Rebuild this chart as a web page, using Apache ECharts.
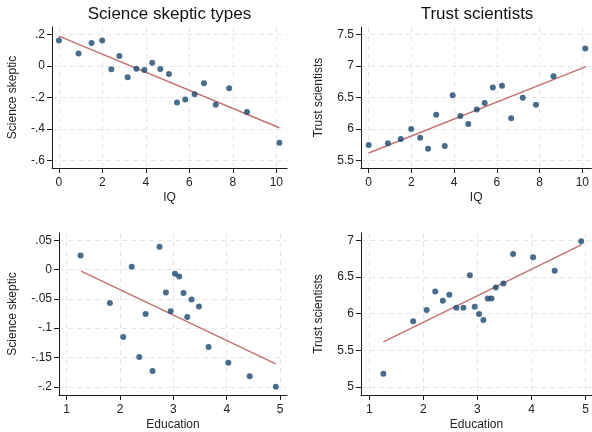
<!DOCTYPE html>
<html>
<head>
<meta charset="utf-8">
<script src="https://cdn.jsdelivr.net/npm/echarts@6/dist/echarts.min.js"></script>
<style>
html,body{margin:0;padding:0;background:#fff;}
#c{width:592px;height:432px;}
</style>
</head>
<body>
<div id="c"></div>
<script>
// ---- Data ----
const iq = [0, 0.90, 1.50, 1.99, 2.41, 2.78, 3.16, 3.56, 3.93, 4.29, 4.66, 5.06, 5.43, 5.81, 6.24, 6.67, 7.21, 7.83, 8.65, 10.14];
const skepticByIQ = [0.162, 0.079, 0.145, 0.162, -0.022, 0.062, -0.073, -0.018, -0.026, 0.020, -0.020, -0.052, -0.232, -0.213, -0.181, -0.111, -0.247, -0.143, -0.293, -0.488];
const trustByIQ = [5.749, 5.775, 5.844, 6.003, 5.865, 5.690, 6.230, 5.733, 6.537, 6.209, 6.082, 6.310, 6.415, 6.659, 6.690, 6.172, 6.500, 6.389, 6.839, 7.278];

const education = [1.26, 1.81, 2.06, 2.22, 2.36, 2.48, 2.61, 2.74, 2.86, 2.95, 3.03, 3.11, 3.19, 3.26, 3.34, 3.48, 3.66, 4.03, 4.43, 4.92];
const skepticByEdu = [0.024, -0.057, -0.115, 0.005, -0.149, -0.076, -0.173, 0.039, -0.039, -0.071, -0.007, -0.012, -0.040, -0.081, -0.051, -0.063, -0.132, -0.159, -0.182, -0.200];
const trustByEdu = [5.181, 5.896, 6.050, 6.303, 6.176, 6.258, 6.081, 6.081, 6.525, 6.095, 5.995, 5.914, 6.208, 6.208, 6.357, 6.410, 6.814, 6.769, 6.584, 6.986];

// fitted line endpoints [x, y]
const fitSkepticIQ = [[0, 0.189], [10.14, -0.393]];
const fitTrustIQ = [[0, 5.622], [10.17, 6.992]];
const fitSkepticEdu = [[1.27, -0.0026], [4.92, -0.161]];
const fitTrustEdu = [[1.26, 5.615], [4.93, 6.941]];

// tick values
const iqTicks = [0, 2, 4, 6, 8, 10];
const eduTicks = [1, 2, 3, 4, 5];
const skepticIQTicks = [-0.6, -0.4, -0.2, 0, 0.2];
const trustIQTicks = [5.5, 6, 6.5, 7, 7.5];
const skepticEduTicks = [-0.2, -0.15, -0.1, -0.05, 0, 0.05];
const trustEduTicks = [5, 5.5, 6, 6.5, 7];

const titles = ['Science skeptic types', 'Trust scientists'];
const xNames = ['IQ', 'IQ', 'Education', 'Education'];
const yNames = ['Science skeptic', 'Trust scientists', 'Science skeptic', 'Trust scientists'];

// ---- Build chart ----
const FONT = '"Liberation Sans", Arial, Helvetica, sans-serif';
const stataFmt = v => {
  let s = String(Math.round(v * 1000) / 1000);
  return s.replace(/^(-?)0\./, '$1.');
};
const grids = [
  {left: 52, top: 27, width: 235, height: 141},
  {left: 361, top: 27, width: 231, height: 141},
  {left: 59, top: 233, width: 228, height: 163},
  {left: 361, top: 233, width: 231, height: 163}
];
const xRanges = [[-0.32, 10.49], [-0.36, 10.42], [0.856, 5.13], [0.846, 5.12]];
const yRanges = [[-0.649, 0.247], [5.384, 7.62], [-0.214, 0.0624], [4.891, 7.10]];
const xTicks = [iqTicks, iqTicks, eduTicks, eduTicks];
const yTicks = [skepticIQTicks, trustIQTicks, skepticEduTicks, trustEduTicks];
const yNameGaps = [33, 36, 40, 36];

const lineCol = '#1a1a1a';
function axisBase(i, isX) {
  const ticks = isX ? xTicks[i] : yTicks[i];
  const range = isX ? xRanges[i] : yRanges[i];
  return {
    type: 'value',
    gridIndex: i,
    min: range[0],
    max: range[1],
    name: isX ? xNames[i] : yNames[i],
    nameLocation: 'middle',
    nameGap: isX ? 24 : yNameGaps[i],
    nameTextStyle: {fontFamily: FONT, fontSize: 12, color: '#222'},
    axisLine: {show: true, onZero: false, lineStyle: {color: lineCol, width: 1}},
    axisTick: {show: true, inside: false, length: 5, customValues: ticks, lineStyle: {color: lineCol, width: 1}},
    axisLabel: {show: true, customValues: ticks, margin: isX ? 9 : 7, fontFamily: FONT, fontSize: 12, color: '#222', formatter: stataFmt, showMinLabel: true, showMaxLabel: true},
    splitLine: {show: true, lineStyle: {color: '#e6e6e6', width: 1, type: [5, 4]}}
  };
}
const xAxis = [0, 1, 2, 3].map(i => axisBase(i, true));
const yAxis = [0, 1, 2, 3].map(i => axisBase(i, false));

const pts = [
  [iq, skepticByIQ], [iq, trustByIQ], [education, skepticByEdu], [education, trustByEdu]
];
const fits = [fitSkepticIQ, fitTrustIQ, fitSkepticEdu, fitTrustEdu];
const series = [];
for (let i = 0; i < 4; i++) {
  series.push({
    type: 'line', xAxisIndex: i, yAxisIndex: i,
    data: fits[i], showSymbol: false, symbol: 'none', silent: true,
    lineStyle: {color: '#c07270', width: 1.5}, z: 2
  });
  series.push({
    type: 'scatter', xAxisIndex: i, yAxisIndex: i,
    data: pts[i][0].map((x, k) => [x, pts[i][1][k]]),
    symbol: 'circle', symbolSize: 6,
    itemStyle: {color: '#1a476f'}, z: 3
  });
}

const chart = echarts.init(document.getElementById('c'), null, {renderer: 'canvas'});
chart.setOption({
  backgroundColor: '#fff',
  animation: false,
  title: [
    {text: titles[0], left: 169.5, top: 6, textAlign: 'center', padding: 0,
     textStyle: {fontFamily: FONT, fontSize: 17, fontWeight: 'normal', color: '#111'}},
    {text: titles[1], left: 477, top: 6, textAlign: 'center', padding: 0,
     textStyle: {fontFamily: FONT, fontSize: 17, fontWeight: 'normal', color: '#111'}}
  ],
  grid: grids,
  xAxis: xAxis,
  yAxis: yAxis,
  series: series
});
</script>
</body>
</html>
